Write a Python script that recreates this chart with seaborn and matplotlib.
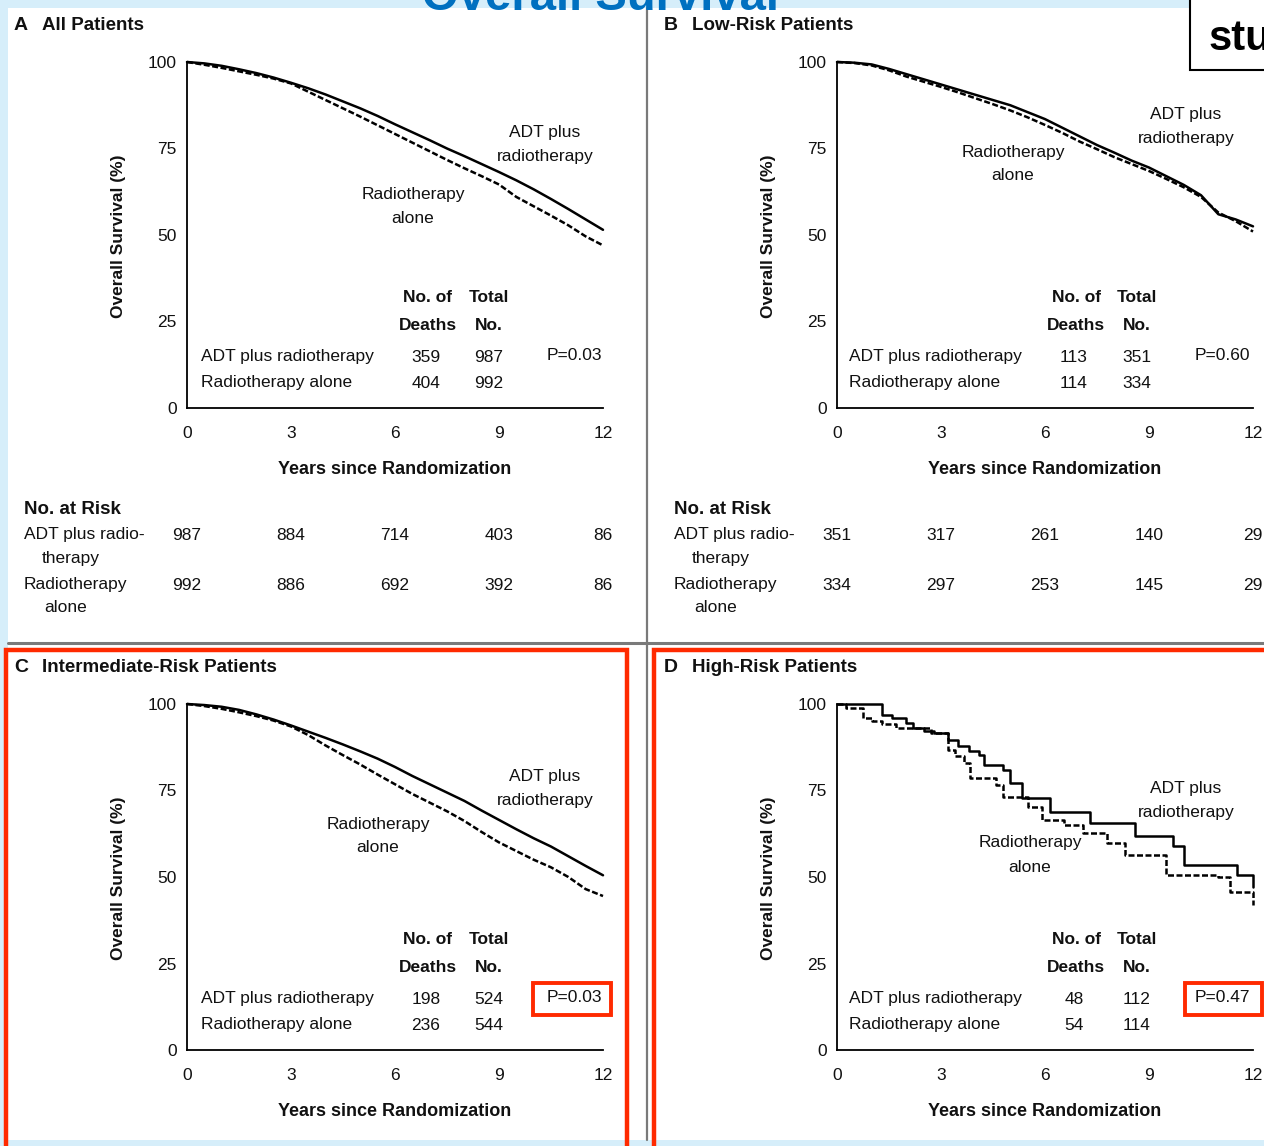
import numpy as np
import pandas as pd
import seaborn as sns
import matplotlib.pyplot as plt
from matplotlib import transforms
from matplotlib.patches import Rectangle

# figure size in pixels
W, H = 1264, 1146

# survival curves (years, % alive)
grid_years = [0, 0.5, 1, 1.5, 2, 2.5, 3, 3.5, 4, 4.5, 5, 5.5, 6, 6.5, 7, 7.5,
              8, 8.5, 9, 9.5, 10, 10.5, 11, 11.5, 12]

a_adt = [100, 99.6, 98.9, 97.9, 96.8, 95.5, 94.0, 92.4, 90.6, 88.6, 86.6, 84.4, 82.0,
         79.7, 77.4, 75.0, 72.8, 70.5, 68.2, 65.8, 63.2, 60.4, 57.5, 54.5, 51.5]
a_alone = [100, 99.2, 98.3, 97.3, 96.3, 95.2, 93.8, 91.4, 89.0, 86.6, 84.2, 81.7, 79.2,
           76.7, 74.2, 71.7, 69.3, 67.0, 64.6, 61.0, 58.3, 55.6, 52.8, 49.6, 47.0]

b_adt = [100, 99.8, 99.3, 98.0, 96.5, 95.0, 93.5, 92.0, 90.5, 89.0, 87.5, 85.5, 83.5,
         81.0, 78.5, 76.0, 73.8, 71.5, 69.5, 67.0, 64.5, 61.5, 56.0, 54.5, 52.5]
b_alone = [100, 99.7, 99.0, 97.6, 95.8, 94.3, 92.8, 91.2, 89.5, 87.8, 86.0, 84.0, 81.8,
           79.5, 77.0, 74.8, 72.5, 70.5, 68.5, 66.2, 63.8, 61.0, 56.5, 54.0, 51.0]

c_adt = [100, 99.7, 99.2, 98.3, 97.0, 95.5, 93.8, 92.0, 90.2, 88.3, 86.3, 84.2, 81.8,
         79.2, 76.8, 74.4, 72.0, 69.2, 66.5, 63.8, 61.2, 58.8, 56.0, 53.2, 50.5]
c_alone = [100, 99.4, 98.6, 97.6, 96.5, 95.2, 93.5, 91.0, 88.0, 85.2, 82.5, 79.6, 76.8,
           74.0, 71.5, 69.0, 66.2, 63.0, 60.0, 57.5, 55.0, 52.8, 50.0, 46.5, 44.5]

d_adt_years = [0, 1.3, 1.6, 2.0, 2.2, 2.5, 2.8, 3.2, 3.5, 3.8, 4.1, 4.25, 4.8, 5.0,
               5.35, 6.15, 7.3, 8.6, 9.7, 10.0, 11.55, 12.0]
d_adt = [100, 96.8, 96.0, 94.5, 93.0, 92.2, 91.5, 89.6, 88.0, 86.5, 85.3, 82.4, 80.8,
         77.2, 72.8, 68.8, 65.6, 61.8, 59.0, 53.5, 50.6, 47.0]
d_alone_years = [0, 0.25, 0.75, 1.0, 1.3, 1.7, 2.7, 3.2, 3.4, 3.65, 3.85, 4.6, 4.8,
                 5.5, 5.9, 6.55, 7.1, 7.8, 8.3, 9.5, 11.0, 11.35, 12.0]
d_alone = [100, 98.8, 96.0, 95.0, 94.2, 93.2, 91.6, 86.7, 85.0, 83.0, 78.6, 76.6, 73.0,
           70.2, 66.5, 65.0, 62.7, 59.8, 56.4, 50.6, 50.0, 45.7, 42.0]

# summary tables
deaths = {"A": (359, 404), "B": (113, 114), "C": (198, 236), "D": (48, 54)}
totals = {"A": (987, 992), "B": (351, 334), "C": (524, 544), "D": (112, 114)}
p_values = {"A": "P=0.03", "B": "P=0.60", "C": "P=0.03", "D": "P=0.47"}
titles = {"A": "All Patients", "B": "Low-Risk Patients",
          "C": "Intermediate-Risk Patients", "D": "High-Risk Patients"}

risk_years = [0, 3, 6, 9, 12]
a_risk_adt = [987, 884, 714, 403, 86]
a_risk_alone = [992, 886, 692, 392, 86]
b_risk_adt = [351, 317, 261, 140, 29]
b_risk_alone = [334, 297, 253, 145, 29]

sns.set_theme(style="white")
plt.rcParams['font.family'] = ['Liberation Sans', 'DejaVu Sans']
FS = 12.5
INK = '#111111'

fig = plt.figure(figsize=(W / 100, H / 100), dpi=100)
fig.patch.set_facecolor('#d6eefa')
fig.add_artist(Rectangle((8 / W, 6 / H), (W - 8) / W, 1132 / H,
                         transform=fig.transFigure, facecolor='white',
                         edgecolor='none', zorder=0))


def fy(y):
    return 1 - y / H


def ftext(x, y, s, **kw):
    kw.setdefault('fontsize', FS)
    kw.setdefault('color', INK)
    kw.setdefault('va', 'center')
    return fig.text(x / W, fy(y), s, **kw)


def panel(key, dx, dy, adt, alone, adt_lbl, alone_lbl, risk=None, steps='default'):
    left, top = 187 + dx, 62 + dy
    ax = fig.add_axes([left / W, fy(top + 346), 416 / W, 346 / H])
    ax.patch.set_alpha(0)
    sns.lineplot(x=alone[0], y=alone[1], ax=ax, color='black', lw=1.8,
                 linestyle=(0, (2.4, 1.0)), drawstyle=steps,
                 errorbar=None, clip_on=False)
    sns.lineplot(x=adt[0], y=adt[1], ax=ax, color='black', lw=1.8,
                 drawstyle=steps, errorbar=None, clip_on=False)
    ax.set_xlim(0, 12)
    ax.set_ylim(0, 100)
    ax.set_xticks([0, 3, 6, 9, 12])
    ax.set_yticks([0, 25, 50, 75, 100])
    ax.set_xlabel('')
    ax.set_ylabel('')
    for s in ['top', 'right']:
        ax.spines[s].set_visible(False)
    for s in ['left', 'bottom']:
        ax.spines[s].set_linewidth(1.3)
        ax.spines[s].set_color('black')
    ax.tick_params(axis='both', direction='out', length=6, width=1.2,
                   labelsize=FS, labelcolor=INK, colors='black')
    ax.tick_params(axis='y', pad=1.5)
    ax.tick_params(axis='x', pad=7)

    ftext(14 + dx, 26 + dy, key, fontweight='bold', fontsize=14)
    ftext(42 + dx, 26 + dy, titles[key], fontweight='bold', fontsize=13.5)
    ftext(119 + dx, 236 + dy, 'Overall Survival (%)', fontweight='bold',
          rotation=90, ha='center')
    ftext(395 + dx, 469 + dy, 'Years since Randomization', fontweight='bold',
          ha='center', fontsize=13)

    ftext(adt_lbl[0], adt_lbl[1], 'ADT plus\nradiotherapy', ha='center', linespacing=1.75)
    ftext(alone_lbl[0], alone_lbl[1], 'Radiotherapy\nalone', ha='center', linespacing=1.75)

    tx = dx if dx == 0 else dx - 2
    ftext(428 + tx, 298 + dy, 'No. of', fontweight='bold', ha='center')
    ftext(428 + tx, 325 + dy, 'Deaths', fontweight='bold', ha='center')
    ftext(489 + tx, 298 + dy, 'Total', fontweight='bold', ha='center')
    ftext(489 + tx, 325 + dy, 'No.', fontweight='bold', ha='center')
    names = ['ADT plus radiotherapy', 'Radiotherapy alone']
    for i, ry in enumerate([357, 383]):
        ftext(201 + tx, ry + dy, names[i])
        ftext(426 + tx, ry + dy, str(deaths[key][i]), ha='center')
        ftext(489 + tx, ry + dy, str(totals[key][i]), ha='center')
    ftext(574 + tx, 356 + dy, p_values[key], ha='center')

    if risk is not None:
        ftext(24 + dx, 510, 'No. at Risk', fontweight='bold', fontsize=13.5)
        ftext(24 + dx, 535, 'ADT plus radio-')
        ftext(42 + dx, 558, 'therapy')
        ftext(24 + dx, 584, 'Radiotherapy')
        ftext(44 + dx, 607, 'alone')
        tr = transforms.blended_transform_factory(ax.transData, fig.transFigure)
        for row, ry in zip(risk, [536, 585]):
            for t, n in zip(risk_years, row):
                ax.text(t, fy(ry), str(n), transform=tr, ha='center', va='center',
                        fontsize=FS, color=INK, clip_on=False)
    return ax


panel('A', 0, 0, (grid_years, a_adt), (grid_years, a_alone),
      (545, 145), (413, 207), risk=(a_risk_adt, a_risk_alone))
panel('B', 650, 0, (grid_years, b_adt), (grid_years, b_alone),
      (1186, 126), (1013, 164), risk=(b_risk_adt, b_risk_alone))
panel('C', 0, 642, (grid_years, c_adt), (grid_years, c_alone),
      (545, 789), (378, 836))
panel('D', 650, 642, (d_adt_years, d_adt), (d_alone_years, d_alone),
      (1186, 800), (1030, 855), steps='steps-post')

# slide decorations: dividers, highlight boxes, cut-off title
fig.add_artist(plt.Line2D([8 / W, 1], [fy(643), fy(643)], transform=fig.transFigure,
                          color='#7a7a7a', lw=2.2, zorder=3))
fig.add_artist(plt.Line2D([647 / W, 647 / W], [fy(8), fy(1140)], transform=fig.transFigure,
                          color='#7a7a7a', lw=1.6, zorder=3))
red = '#ff2a00'
for (x0, y0, x1, y1, lw) in [(6, 650, 627, 1170, 3.2), (654, 650, 1290, 1170, 3.2),
                             (533, 983, 611, 1015, 2.8), (1185, 983, 1262, 1015, 2.8)]:
    fig.add_artist(Rectangle((x0 / W, fy(y1)), (x1 - x0) / W, (y1 - y0) / H,
                             transform=fig.transFigure, facecolor='none',
                             edgecolor=red, lw=lw, zorder=4))

fig.add_artist(Rectangle((1190 / W, fy(70)), 100 / W, 90 / H, transform=fig.transFigure,
                         facecolor='white', edgecolor='black', lw=1.5, zorder=4))
fig.text(1209 / W, fy(50), 'stu', fontsize=30, fontweight='bold', color='black',
         va='baseline', ha='left', zorder=5)
fig.text(600 / W, fy(10), 'Overall Survival', fontsize=34, fontweight='bold',
         color='#0070c0', va='baseline', ha='center', zorder=5)

fig.savefig('out.png', dpi=100)
